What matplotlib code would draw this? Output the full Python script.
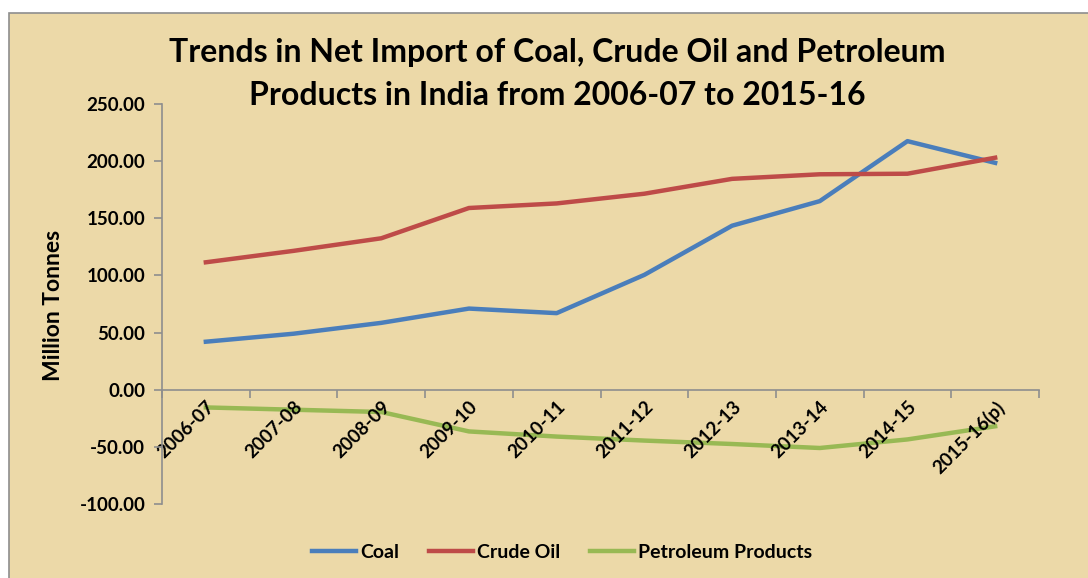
import matplotlib.pyplot as plt
from matplotlib.patches import Rectangle

# -------------------------------
# Dados
# -------------------------------
anos = ['2006-07', '2007-08', '2008-09', '2009-10', '2010-11',
        '2011-12', '2012-13', '2013-14', '2014-15', '2015-16(p)']
carvao = [42.0, 49.0, 58.5, 71.0, 67.0, 100.5, 143.5, 165.0, 217.5, 198.5]
petroleo_bruto = [111.5, 121.5, 132.5, 159.0, 163.0, 171.5, 184.5, 188.5, 189.0, 203.0]
derivados = [-15.5, -17.5, -19.5, -36.5, -41.0, -44.5, -47.5, -51.0, -43.5, -32.0]

titulo = ('Trends in Net Import of Coal, Crude Oil and Petroleum\n'
          'Products in India from 2006-07 to 2015-16')

# -------------------------------
# Estilo
# -------------------------------
plt.rcParams['font.family'] = ['Lato', 'DejaVu Sans']
plt.rcParams['font.weight'] = 'bold'

fundo = '#ECD9A8'
cinza = '#8E8E8E'
tam = 13.5

fig = plt.figure(figsize=(10.88, 5.78), dpi=100)
fig.patch.set_facecolor('white')

# moldura do gráfico (fundo "papiro")
moldura = Rectangle((9 / 1088, -0.05), 1.1, 1 - 13 / 578 + 0.05,
                    transform=fig.transFigure, facecolor=fundo,
                    edgecolor=cinza, linewidth=1.2, zorder=-10)
fig.patches.append(moldura)

ax = fig.add_axes([162 / 1088, 1 - 504 / 578, (1039 - 162) / 1088, 400 / 578])
ax.set_zorder(5)
ax.set_facecolor('none')

x = list(range(len(anos)))
ax.plot(x, carvao, color='#4A7EBB', linewidth=3.2, label='Coal', zorder=1)
ax.plot(x, petroleo_bruto, color='#BE4B48', linewidth=3.2, label='Crude Oil', zorder=1)
ax.plot(x, derivados, color='#98B954', linewidth=3.2, label='Petroleum Products', zorder=1)

ax.set_xlim(-0.5, len(anos) - 0.5)
ax.set_ylim(-100, 250)
ax.set_yticks(range(-100, 251, 50))
ax.set_yticklabels([f'{v:.2f}' for v in range(-100, 251, 50)], fontsize=tam, fontweight='bold')

# eixo x na linha do zero
ax.spines['bottom'].set_position(('data', 0))
for lado in ['top', 'right']:
    ax.spines[lado].set_visible(False)
ax.spines['bottom'].set_color(cinza)
ax.spines['left'].set_color(cinza)
ax.spines['bottom'].set_linewidth(1.2)
ax.spines['left'].set_linewidth(1.2)

ax.set_xticks([i - 0.5 for i in range(len(anos) + 1)])
ax.set_xticklabels([])
ax.set_xticks(x, minor=True)
ax.set_xticklabels(anos, minor=True, rotation=45, ha='right', va='top',
                   rotation_mode='anchor', fontsize=tam, fontweight='bold')
ax.tick_params(axis='x', which='major', direction='out', length=6, color=cinza, width=1.2)
ax.tick_params(axis='x', which='minor', length=0, pad=6)
ax.tick_params(axis='y', direction='out', length=6, color=cinza, width=1.2, pad=6)

ax.set_ylabel('Million Tonnes', fontsize=16.5, fontweight='bold')
ax.yaxis.label.set_va('center')
ax.yaxis.set_label_coords((54 - 162) / 877, (504 - 305) / 400)

fig.text(557 / 1088, 1 - 74 / 578, titulo, ha='center', va='center',
         fontsize=23, fontweight='bold', linespacing=1.58)

fig.legend(loc='center', bbox_to_anchor=(562 / 1088, 1 - 552 / 578), ncol=3,
           frameon=False, handlelength=2.3, handletextpad=0.2, columnspacing=1.5,
           prop={'weight': 'bold', 'size': 14})

fig.savefig('out.png', dpi=100, facecolor=fig.get_facecolor())
